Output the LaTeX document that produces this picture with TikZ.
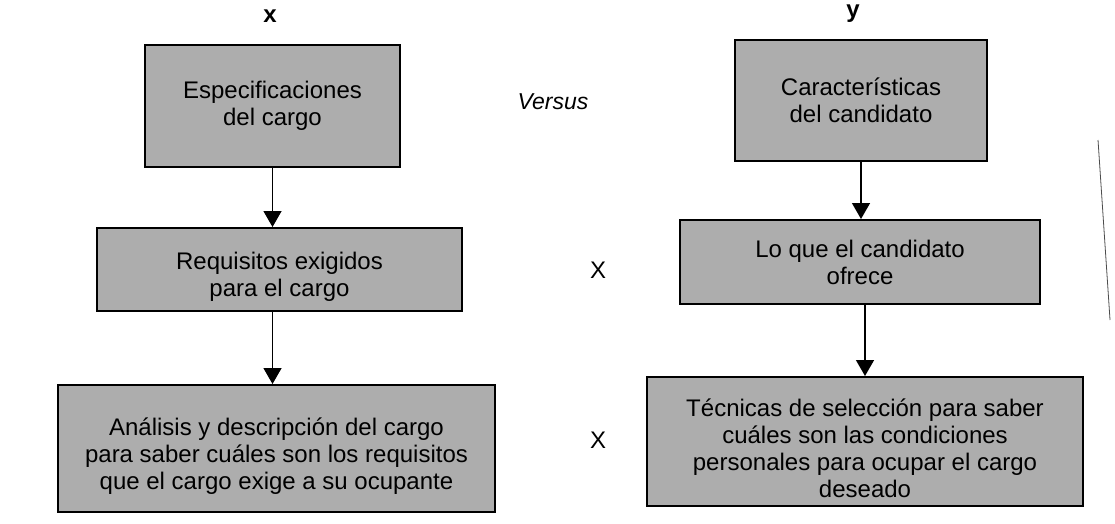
\documentclass[tikz,border=0pt]{standalone}
\usepackage{fontspec}
\setmainfont{Liberation Sans}
\usetikzlibrary{arrows.meta}
\newcommand{\lowerby}[1]{\rule{0pt}{#1}}
\tikzset{
  box/.style={draw=black, line width=2pt, fill=black!32, align=center, inner sep=0pt,
    font=\fontsize{24}{27}\selectfont},
  conn/.style={line width=1.4pt, -{Triangle[width=18pt,length=16pt]}},
  lbl/.style={font=\fontsize{24}{27}\selectfont, inner sep=0pt}
}
\begin{document}
\begin{tikzpicture}[x=1pt,y=-1pt]
\useasboundingbox (0,0) rectangle (1115,523);
\fill[white] (0,0) rectangle (1115,523);
% left column
\node[box, minimum width=255pt, minimum height=122pt] (b1) at (272.5,106) {Especificaciones\\del cargo};
\node[box, minimum width=365pt, minimum height=83pt] (b2) at (279.5,269.5) {\lowerby{32pt}Requisitos exigidos\\para el cargo};
\node[box, minimum width=437pt, minimum height=127pt] (b3) at (276.5,448.5) {\lowerby{33pt}An\'alisis y descripci\'on del cargo\\para saber cu\'ales son los requisitos\\que el cargo exige a su ocupante};
% right column
\node[box, minimum width=252pt, minimum height=121pt] (b4) at (861,100.5) {Caracter\'isticas\\del candidato};
\node[box, minimum width=360pt, minimum height=84pt] (b5) at (860,262) {Lo que el candidato\\ofrece};
\node[box, minimum width=436pt, minimum height=129pt] (b6) at (865,441.5) {\lowerby{32pt}T\'ecnicas de selecci\'on para saber\\cu\'ales son las condiciones\\personales para ocupar el cargo\\deseado};
% labels
\node[lbl, font=\fontsize{24}{27}\selectfont\bfseries] (lx) at (270,16) {x};
\node[lbl, font=\fontsize{24}{27}\selectfont\bfseries] (ly) at (853,14) {y};
\node[lbl, font=\fontsize{23}{27}\selectfont\itshape] (vs) at (553,102) {Versus};
\node[lbl] (x1) at (598,270) {X};
\node[lbl] (x2) at (598,440) {X};
% connectors
\draw[conn] (b1.south) -- (b1.south |- b2.north);
\draw[conn] (b1.south |- b2.south) -- (b1.south |- b3.north);
\draw[conn] (b4.south) -- (b4.south |- b5.north);
\draw[conn] (865,304) coordinate (c5) -- (c5 |- b6.north);
% scan edge
\coordinate (e1) at (1098,140);
\coordinate (e2) at (1110,320);
\draw[line width=0.8pt, black!70] (e1) -- (e2);
\end{tikzpicture}
\end{document}
